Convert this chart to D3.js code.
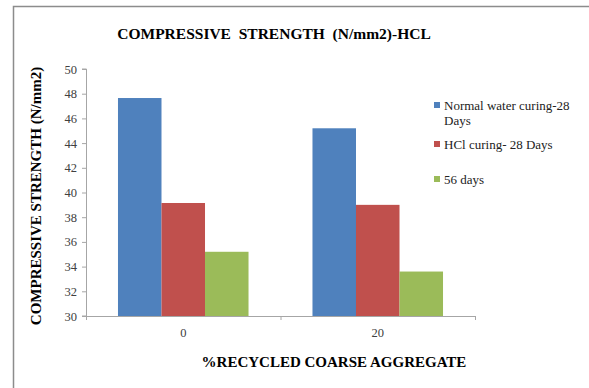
<!DOCTYPE html>
<html>
<head>
<meta charset="utf-8">
<script src="https://cdn.jsdelivr.net/npm/d3@7/dist/d3.min.js"></script>
<style>
  html, body { margin: 0; padding: 0; background: #fff; }
  svg { display: block; }
  svg text { font-family: "Liberation Serif", "Times New Roman", Times, serif; }
</style>
</head>
<body>
<script>
// Categories (% recycled coarse aggregate) and compressive strength per curing regime
const categories = ["0", "20"];
const seriesNames = ["Normal water curing-28 Days", "HCl curing- 28 Days", "56 days"];
const normalWater28 = [47.65, 45.2];
const hcl28 = [39.15, 39.0];
const days56 = [35.2, 33.6];
const yTicks = [30, 32, 34, 36, 38, 40, 42, 44, 46, 48, 50];
const colors = ["#4f81bd", "#c0504d", "#9bbb59"];

const series = [normalWater28, hcl28, days56];
const SERIF = "Liberation Serif";

const W = 589, H = 388;
const svg = d3.select("body").append("svg").attr("width", W).attr("height", H)
  .attr("font-family", SERIF);

// Outer chart frame (left and top edges visible)
svg.append("path")
  .attr("d", `M13.5,${H} L13.5,6.5 L${W},6.5`)
  .attr("fill", "none").attr("stroke", "#8c8c8c").attr("stroke-width", 1.5);

const plot = { left: 86, right: 475, top: 69, bottom: 316 };

const x0 = d3.scaleBand().domain(categories).range([plot.left, plot.right])
  .paddingInner(0).paddingOuter(0);
const x1 = d3.scaleBand().domain(d3.range(series.length))
  .range([0, x0.bandwidth()]).paddingInner(0).paddingOuter(0.735);
const y = d3.scaleLinear().domain([30, 50]).range([plot.bottom, plot.top]);

// Bars
categories.forEach((c, ci) => {
  series.forEach((s, si) => {
    svg.append("rect")
      .attr("x", x0(c) + x1(si))
      .attr("y", y(s[ci]))
      .attr("width", x1.bandwidth())
      .attr("height", y(30) - y(s[ci]))
      .attr("fill", colors[si]);
  });
});

// Y axis
const yAxis = svg.append("g").attr("transform", `translate(${plot.left},0)`)
  .call(d3.axisLeft(y).tickValues(yTicks).tickSize(4).tickPadding(5).tickFormat(d3.format("d")));
yAxis.attr("font-family", SERIF);
yAxis.select(".domain").attr("stroke", "#a6a6a6").attr("d", `M-4,${y(50)}H0.5V${y(30)}H-4`);
yAxis.selectAll(".tick line").attr("stroke", "#a6a6a6");
yAxis.selectAll(".tick text").attr("font-size", 12.5).attr("fill", "#404040");

// X axis
const xAxis = svg.append("g").attr("transform", `translate(0,${plot.bottom})`)
  .call(d3.axisBottom(x0).tickSize(0).tickPadding(12));
xAxis.attr("font-family", SERIF);
xAxis.select(".domain").attr("stroke", "#a6a6a6");
xAxis.selectAll(".tick text").attr("font-size", 12.5).attr("fill", "#404040");
// Category separators
const sep = [plot.left, plot.left + x0.step(), plot.right];
svg.selectAll(".sep").data(sep).enter().append("line")
  .attr("x1", d => d + 0.5).attr("x2", d => d + 0.5)
  .attr("y1", plot.bottom).attr("y2", plot.bottom + 4)
  .attr("stroke", "#a6a6a6");

// Title
svg.append("text").attr("x", 274).attr("y", 39).attr("text-anchor", "middle")
  .attr("font-size", 15.5).attr("font-weight", "bold").attr("fill", "#000")
  .style("white-space", "pre")
  .text("COMPRESSIVE  STRENGTH  (N/mm2)-HCL");

// Axis titles
svg.append("text").attr("transform", "translate(41,196) rotate(-90)")
  .attr("text-anchor", "middle").attr("font-size", 15).attr("font-weight", "bold")
  .text("COMPRESSIVE STRENGTH (N/mm2)");
svg.append("text").attr("x", 334).attr("y", 367).attr("text-anchor", "middle")
  .attr("font-size", 15).attr("font-weight", "bold")
  .text("%RECYCLED COARSE AGGREGATE");

// Legend
const legendRows = [
  { lines: ["Normal water curing-28", "Days"], y: 110 },
  { lines: ["HCl curing- 28 Days"], y: 149 },
  { lines: ["56 days"], y: 184 }
];
legendRows.forEach((r, i) => {
  svg.append("rect").attr("x", 434).attr("y", r.y - 8).attr("width", 6).attr("height", 6)
    .attr("fill", colors[i]);
  const t = svg.append("text").attr("x", 444).attr("y", r.y)
    .attr("font-size", 13).attr("fill", "#222");
  r.lines.forEach((ln, li) => {
    t.append("tspan").attr("x", 444).attr("dy", li === 0 ? 0 : 15).text(ln);
  });
});
</script>
</body>
</html>
